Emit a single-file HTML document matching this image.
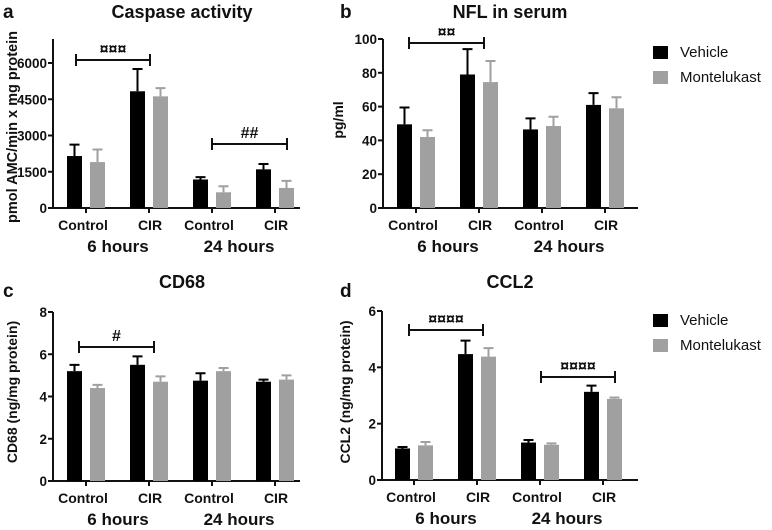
<!DOCTYPE html>
<html><head><meta charset="utf-8">
<style>
body{margin:0;background:#fff;width:772px;height:525px;overflow:hidden;font-family:"Liberation Sans",Arial,sans-serif;}
svg text{font-family:"Liberation Sans",Arial,sans-serif;font-weight:bold;fill:#111;}
</style></head>
<body>
<svg id="fig" width="772" height="525" viewBox="0 0 772 525"></svg>
<script>
// Panel a: Caspase activity
const catLabels = ["Control","CIR","Control","CIR"];
const hourLabels = ["6 hours","24 hours"];
const seriesNames = ["Vehicle","Montelukast"];
const aVehicle = [2150,4830,1180,1600];
const aVehicleErr = [2620,5750,1280,1820];
const aMonte = [1900,4620,650,830];
const aMonteErr = [2420,4960,900,1120];
const aTicks = [0,1500,3000,4500,6000];
// Panel b: NFL in serum
const bVehicle = [49.5,79,46.5,61];
const bVehicleErr = [59.5,94,53,68];
const bMonte = [42,74.5,48.5,59];
const bMonteErr = [46,87,54,65.5];
const bTicks = [0,20,40,60,80,100];
// Panel c: CD68
const cVehicle = [5.2,5.5,4.75,4.7];
const cVehicleErr = [5.5,5.9,5.1,4.8];
const cMonte = [4.4,4.7,5.2,4.8];
const cMonteErr = [4.55,4.95,5.35,5.0];
const cTicks = [0,2,4,6,8];
// Panel d: CCL2
const dVehicle = [1.12,4.47,1.33,3.13];
const dVehicleErr = [1.17,4.95,1.42,3.35];
const dMonte = [1.23,4.38,1.25,2.88];
const dMonteErr = [1.35,4.68,1.3,2.93];
const dTicks = [0,2,4,6];

const NS="http://www.w3.org/2000/svg";
const svg=document.getElementById('fig');
function el(tag,attrs,parent){const e=document.createElementNS(NS,tag);for(const k in attrs)e.setAttribute(k,attrs[k]);(parent||svg).appendChild(e);return e;}
function txt(s,attrs,parent){const e=el('text',attrs,parent);e.textContent=s;return e;}

function panel(p){
  const g=el('g',{});
  
  
  const y=v=>p.y0-(v/p.max)*(p.y0-p.yTopVal);
  const L=txt(p.letter,{x:p.letterX,y:p.letterY,'font-size':19},g);
  
  
  const T=txt(p.title,{x:p.titleX,y:p.titleY,'font-size':18,'text-anchor':'middle'},g);
  
  
  const ya=el('line',{x1:p.ax,x2:p.ax,y1:p.axTop,y2:p.y0+1,stroke:'#111','stroke-width':2},g);
  
  
  p.ticks.forEach(t=>{
    el('line',{x1:p.ax-5,x2:p.ax,y1:y(t),y2:y(t),stroke:'#111','stroke-width':2},g);
    const tl=txt(String(t),{x:p.ax-6,y:y(t)+5,'font-size':13.5,'text-anchor':'end'},g);
    
    
  });
  const yt=txt(p.ylabel,{x:0,y:0,'font-size':p.ylabSize||14,'text-anchor':'middle',transform:`translate(${p.ylabX},${p.ylabY}) rotate(-90)`},g);
  
  
  const xa=el('line',{x1:p.ax-1,x2:p.axEnd,y1:p.y0,y2:p.y0,stroke:'#111','stroke-width':2},g);
  
  
  const offs=[0,63,126,189];
  const bw=15;
  catLabels.forEach((c,i)=>{
    const cx=p.bx+offs[i]+19;
    el('line',{x1:cx,x2:cx,y1:p.y0,y2:p.y0+5,stroke:'#111','stroke-width':2},g);
    const cl=txt(c,{x:cx-(c==='CIR'?-1:3),y:p.y0+22,'font-size':14,'text-anchor':'middle'},g);
    
    
  });
  hourLabels.forEach((h,i)=>{
    const hx=p.bx+offs[i*2]+19+ (i===0?32:27);
    const hl=txt(h,{x:hx,y:p.y0+44,'font-size':17,'text-anchor':'middle'},g);
    
    
  });
  const series=[[p.veh,p.vehErr,'#000',0],[p.mon,p.monErr,'#a0a0a0',23]];
  series.forEach(([vals,errs,col,dx],si)=>{
    vals.forEach((v,i)=>{
      const x=p.bx+offs[i]+dx;
      const r=el('rect',{x:x,y:y(v),width:bw,height:p.y0-y(v),fill:col},g);
      
      
      const cx=x+bw/2;
      const e=el('path',{d:`M${cx},${y(v)}V${y(errs[i])}M${cx-5},${y(errs[i])}H${cx+5}`,stroke:col,'stroke-width':2,fill:'none'},g);
      
      
    });
  });
  p.sig.forEach(s=>{
    const b=el('path',{d:`M${s.x1},${s.y-6}V${s.y+6}M${s.x1},${s.y}H${s.x2}M${s.x2},${s.y-6}V${s.y+6}`,stroke:'#111','stroke-width':2,fill:'none'},g);
    
    
    const st=txt(s.label,{x:(s.x1+s.x2)/2,y:s.y-6,'font-size':16,'text-anchor':'middle'},g);
    
    
  });
  if(p.legendY){
    series.forEach((s,i)=>{
      const ly=p.legendY+i*25;
      const lr=el('rect',{x:653,y:ly-6,width:15,height:13,fill:s[2]},g);
      
      
      const lt=txt(seriesNames[i],{x:680,y:ly+5,'font-size':15},g);
      lt.style.fontWeight='normal';
      
      
    });
  }
}

panel({letter:'a',letterX:3,letterY:18,title:'Caspase activity',titleX:182,titleY:18,ax:53,axTop:39,axEnd:300,y0:208,max:6000,yTopVal:63,
  ticks:aTicks,ylabel:'pmol AMC/min x mg protein',ylabSize:14.5,ylabX:17,ylabY:127,bx:67,
  veh:aVehicle,vehErr:aVehicleErr,mon:aMonte,monErr:aMonteErr,
  sig:[{x1:76,x2:150,y:60,label:'¤¤¤'},{x1:212,x2:287,y:144,label:'##'}]});
panel({letter:'b',letterX:340,letterY:18,title:'NFL in serum',titleX:510,titleY:18,ax:383,axTop:39,axEnd:638,y0:208,max:100,yTopVal:39,
  ticks:bTicks,ylabel:'pg/ml',ylabX:343,ylabY:120,bx:397,
  veh:bVehicle,vehErr:bVehicleErr,mon:bMonte,monErr:bMonteErr,
  sig:[{x1:409,x2:484,y:43,label:'¤¤'}],legendY:52});
panel({letter:'c',letterX:3,letterY:297,title:'CD68',titleX:182,titleY:288,ax:53,axTop:312,axEnd:300,y0:481,max:8,yTopVal:312,
  ticks:cTicks,ylabel:'CD68 (ng/mg protein)',ylabX:17,ylabY:392,bx:67,
  veh:cVehicle,vehErr:cVehicleErr,mon:cMonte,monErr:cMonteErr,
  sig:[{x1:79,x2:154,y:347,label:'#'}]});
panel({letter:'d',letterX:340,letterY:297,title:'CCL2',titleX:510,titleY:288,ax:382,axTop:311,axEnd:638,y0:480,max:6,yTopVal:311,
  ticks:dTicks,ylabel:'CCL2 (ng/mg protein)',ylabX:350,ylabY:392,bx:395,
  veh:dVehicle,vehErr:dVehicleErr,mon:dMonte,monErr:dMonteErr,
  sig:[{x1:409,x2:483,y:330,label:'¤¤¤¤'},{x1:541,x2:615,y:377,label:'¤¤¤¤'}],legendY:320});
</script>
</body></html>
